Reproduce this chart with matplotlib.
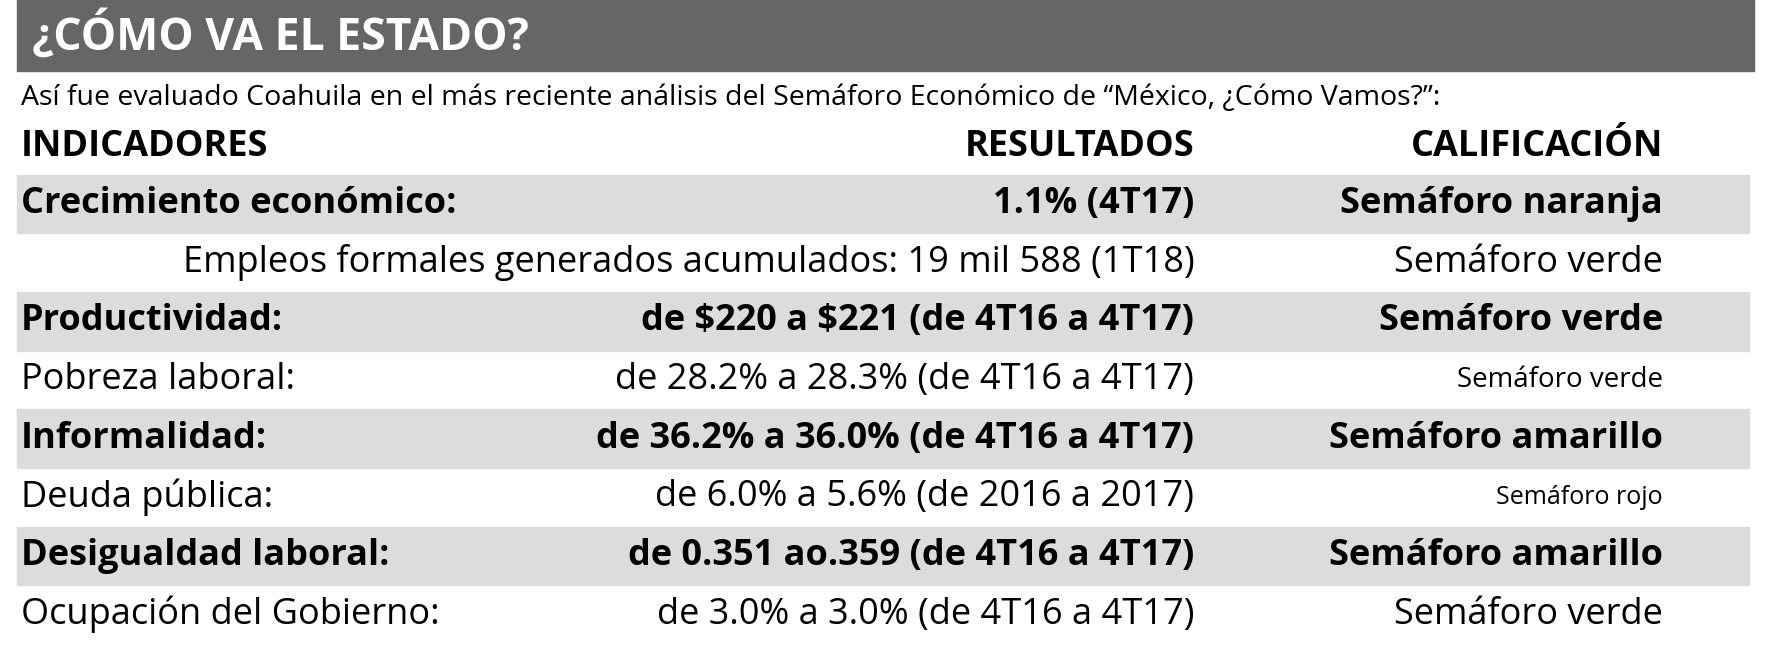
import matplotlib.pyplot as plt
from matplotlib.patches import Rectangle

title = "¿CÓMO VA EL ESTADO?"
subtitle = "Así fue evaluado Coahuila en el más reciente análisis del Semáforo Económico de “México, ¿Cómo Vamos?”:"
headers = ["INDICADORES", "RESULTADOS", "CALIFICACIÓN"]
indicators = ["Crecimiento económico:", "", "Productividad:", "Pobreza laboral:",
              "Informalidad:", "Deuda pública:", "Desigualdad laboral:", "Ocupación del Gobierno:"]
results = ["1.1% (4T17)", "Empleos formales generados acumulados: 19 mil 588 (1T18)",
           "de $220 a $221 (de 4T16 a 4T17)", "de 28.2% a 28.3% (de 4T16 a 4T17)",
           "de 36.2% a 36.0% (de 4T16 a 4T17)", "de 6.0% a 5.6% (de 2016 a 2017)",
           "de 0.351 ao.359 (de 4T16 a 4T17)", "de 3.0% a 3.0% (de 4T16 a 4T17)"]
ratings = ["Semáforo naranja", "Semáforo verde", "Semáforo verde", "Semáforo verde",
           "Semáforo amarillo", "Semáforo rojo", "Semáforo amarillo", "Semáforo verde"]
bold = [True, False, True, False, True, False, True, False]
rating_size = [26, 26, 26, 20, 26, 18, 26, 26]

W, H = 1547, 567
fig = plt.figure(figsize=(17.68, 6.48), dpi=100)
plt.rcParams['font.family'] = ['Open Sans', 'DejaVu Sans']

def fx(x): return x / W
def fy(y): return 1 - y / H

def txt(x, y, s, **kw):
    fig.text(fx(x), fy(y), s, va='center', parse_math=False, **kw)

fig.patches.append(Rectangle((fx(15), fy(62)), fx(1535 - 15), 62 / H,
                             transform=fig.transFigure, color='#666666'))
txt(28, 31, title, color='white', fontsize=32, fontweight='bold')
txt(18, 86, subtitle, fontsize=20.5)
txt(18, 129, headers[0], fontsize=26, fontweight='bold')
txt(1045, 129, headers[1], fontsize=26, fontweight='bold', ha='right')
txt(1455, 129, headers[2], fontsize=26, fontweight='bold', ha='right')

row_h = 51.3
for i in range(len(indicators)):
    top = 153 + i * row_h
    cy = top + row_h / 2
    if i % 2 == 0:
        fig.patches.append(Rectangle((fx(15), fy(top + row_h)), fx(1530 - 15), row_h / H,
                                     transform=fig.transFigure, color='#dcdcdc'))
    w = 'bold' if bold[i] else 'normal'
    if indicators[i]:
        txt(18, cy, indicators[i], fontsize=26, fontweight=w)
    txt(1045, cy, results[i], fontsize=26, fontweight=w, ha='right')
    txt(1455, cy, ratings[i], fontsize=rating_size[i], fontweight=w, ha='right')

fig.savefig('out.png', facecolor='white')
